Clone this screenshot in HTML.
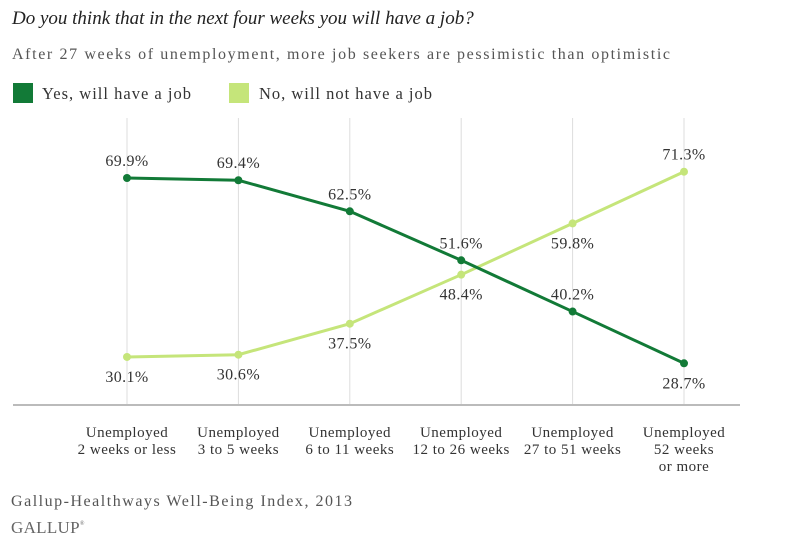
<!DOCTYPE html>
<html><head><meta charset="utf-8"><style>
body{margin:0;background:#fff;width:808px;height:544px;overflow:hidden;font-family:"Liberation Serif",serif;}
svg text{font-family:"Liberation Serif",serif;}
</style></head><body>
<svg id="chart" width="808" height="544" xmlns="http://www.w3.org/2000/svg">
<text x="12" y="24" font-size="19" font-style="italic" fill="#222">Do you think that in the next four weeks you will have a job?</text>
<text x="12" y="59" font-size="16" fill="#555" textLength="658" lengthAdjust="spacing">After 27 weeks of unemployment, more job seekers are pessimistic than optimistic</text>
<g>
<rect x="13" y="83" width="20" height="20" fill="#127a37"/>
<text x="42" y="99" font-size="16.5" fill="#333" textLength="149" lengthAdjust="spacing">Yes, will have a job</text>
<rect x="229" y="83" width="20" height="20" fill="#c5e57a"/>
<text x="259" y="99" font-size="16.5" fill="#333" textLength="173" lengthAdjust="spacing">No, will not have a job</text>
</g>
<g id="grid"></g><g id="lines"></g><g id="labels"></g>
<text x="11" y="506" font-size="16" fill="#555" textLength="341" lengthAdjust="spacing">Gallup-Healthways Well-Being Index, 2013</text>
<text x="11" y="533" font-size="17" fill="#666" letter-spacing="0.3">GALLUP<tspan font-size="6" dy="-8">®</tspan></text>
</svg>
<script>
const categories=[["Unemployed","2 weeks or less"],["Unemployed","3 to 5 weeks"],["Unemployed","6 to 11 weeks"],["Unemployed","12 to 26 weeks"],["Unemployed","27 to 51 weeks"],["Unemployed","52 weeks","or more"]];
const yesValues=[69.9,69.4,62.5,51.6,40.2,28.7];
const noValues=[30.1,30.6,37.5,48.4,59.8,71.3];
const yesLabelAbove=[true,true,true,true,true,false];
const noLabelAbove=[false,false,false,false,false,true];

const NS="http://www.w3.org/2000/svg";
function x(i){return 127+i*111.4;}
function y(v){return 178+(69.9-v)*4.497;}
function mk(tag,attrs,parent){const e=document.createElementNS(NS,tag);for(const k in attrs)e.setAttribute(k,attrs[k]);parent.appendChild(e);return e;}
const grid=document.getElementById('grid'),lines=document.getElementById('lines'),labels=document.getElementById('labels');
categories.forEach((c,i)=>{
  const g=mk('line',{x1:x(i),x2:x(i),y1:118,y2:405,stroke:'#ddd','stroke-width':1},grid);
  
  
  const t=mk('text',{x:x(i),y:437,'text-anchor':'middle','font-size':15,fill:'#333','letter-spacing':0.5},labels);
  
  
  c.forEach((s,j)=>{const ts=mk('tspan',{x:x(i),dy:j?17:0},t);ts.textContent=s;});
});
const base=mk('line',{x1:13,x2:740,y1:405,y2:405,stroke:'#bbb','stroke-width':2},grid);


function series(vals,color,name,above){
  const p=mk('polyline',{points:vals.map((v,i)=>x(i)+','+y(v)).join(' '),fill:'none',stroke:color,'stroke-width':3},lines);
  
  
  vals.forEach((v,i)=>{
    const c=mk('circle',{cx:x(i),cy:y(v),r:4,fill:color},lines);
    
    
    const t=mk('text',{x:x(i),y:above[i]?y(v)-12:y(v)+25,'text-anchor':'middle','font-size':16,fill:'#333','letter-spacing':0.4},labels);
    
    
    t.textContent=v.toFixed(1)+'%';
  });
}
series(noValues,'#c5e57a','no',noLabelAbove);
series(yesValues,'#127a37','yes',yesLabelAbove);
</script>
</body></html>
